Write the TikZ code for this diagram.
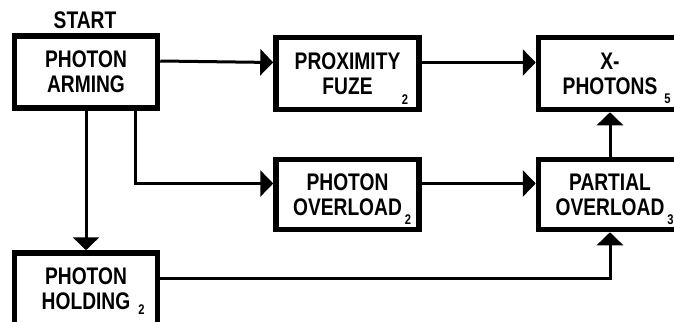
\documentclass[tikz,border=0pt]{standalone}
\usepackage{fontspec}
\usetikzlibrary{arrows.meta}
\newfontfamily\diagfont{Liberation Sans}[FakeStretch=0.80]
% subscript number: gap, drop, digit
\newcommand{\idxnum}[3]{\rlap{\hspace{#1}\raisebox{-#2}[0pt][0pt]{\fontsize{14}{14}\selectfont #3}}}
\tikzset{
  box/.style={draw, line width=5.5pt, minimum width=143pt, minimum height=72pt,
    align=center, inner sep=0pt, font=\diagfont\bfseries\fontsize{24}{25}\selectfont},
  conn/.style={line width=3pt, -{Triangle[length=13pt,width=26pt]}},
  idx/.style={inner sep=0pt, font=\diagfont\bfseries\fontsize{14}{14}\selectfont},
  lbl/.style={inner sep=0pt, font=\diagfont\bfseries\fontsize{24}{25}\selectfont}
}
\begin{document}
\begin{tikzpicture}[x=1pt,y=1pt,yscale=-1,xscale=1]
\useasboundingbox (0,0) rectangle (674,321);
\clip (0,0) rectangle (674,321);

% boxes
\node[box] (arming) at (86,72) {PHOTON\\ARMING};
\node[box] (fuze) at (347.5,73.5) {PROXIMITY\\FUZE};
\node[box] (xphot) at (610,73.5) {X-\\PHOTONS\idxnum{7pt}{9pt}{5}};
\node[box, minimum height=70pt] (overload) at (347.5,194.5) {PHOTON\\OVERLOAD\idxnum{3pt}{9pt}{2}};
\node[box, minimum height=70pt] (partial) at (610,194.5) {PARTIAL\\OVERLOAD\idxnum{3pt}{9pt}{3}};
\node[box] (holding) at (86,289) {PHOTON\\HOLDING\idxnum{8pt}{5pt}{2}};

% text nodes
\node[lbl] (start) at (85,20) {START};
\node[idx] (fuzeidx) at (405,100) {2};

% connectors
\draw[conn] ([yshift=-11pt]arming.east) -- ([yshift=-11pt]fuze.west);
\draw[conn] ([yshift=-11pt]fuze.east) -- ([yshift=-11pt]xphot.west);
\draw[conn] ([yshift=-11pt]overload.east) -- ([yshift=-11pt]partial.west);
\draw[conn] (partial.north) -- (xphot.south);
\draw[conn] (arming.south) -- (holding.north);
\draw[conn] ([xshift=49pt]arming.south) |- ([yshift=-11pt]overload.west);
\draw[conn] ([yshift=-11pt]holding.east) -| (partial.south);
\end{tikzpicture}
\end{document}
